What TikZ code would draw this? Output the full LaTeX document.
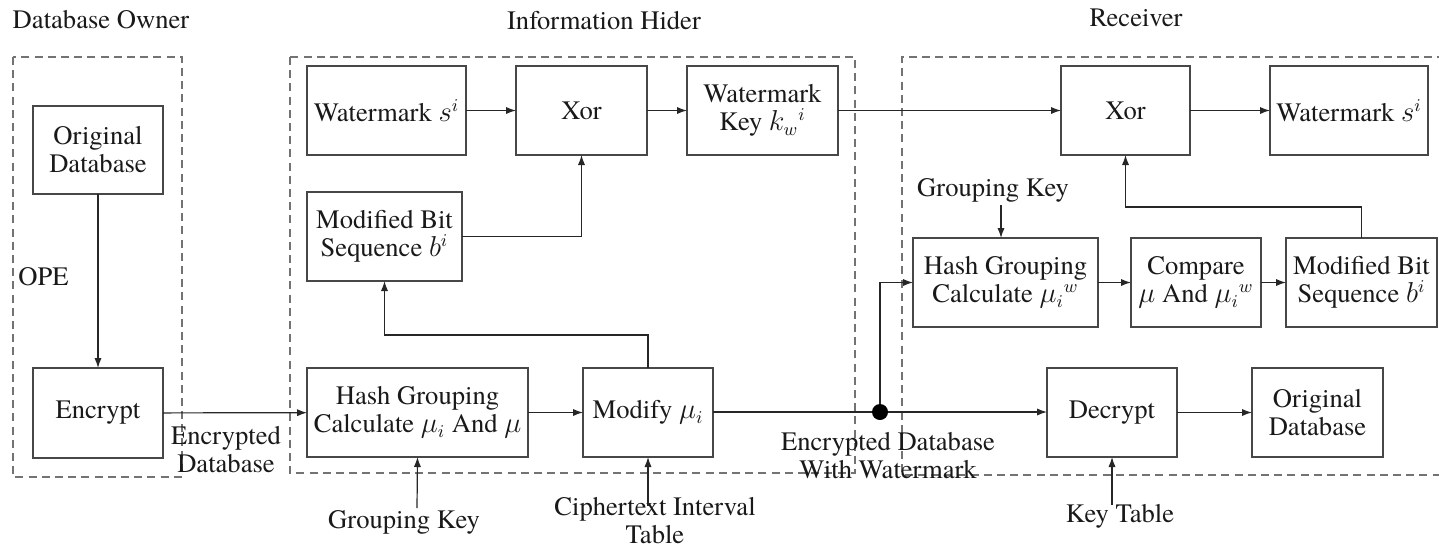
\documentclass[tikz,border=0pt]{standalone}
\usepackage{fontspec}
\setmainfont{TeX Gyre Termes}
\usetikzlibrary{arrows.meta}
\newcommand\bx[6]{\node[box, minimum width={(#4-#2)*0.5pt}, minimum height={(#5-#3)*0.5pt}] (#1) at ({(#2+#4)/2},{(#3+#5)/2}) {#6};}
\begin{document}
\begin{tikzpicture}[x=0.5pt,y=-0.5pt,
  font=\fontsize{13.3}{14}\selectfont,
  box/.style={draw=black!72, line width=0.6pt, inner sep=0pt, outer sep=0pt, align=center, text=black!90},
  lbl/.style={inner sep=0pt, align=center, text=black!90},
  dashbox/.style={draw=black!55, line width=0.8pt, dash pattern=on 4pt off 2.6pt},
  arr/.style={draw=black!85, line width=0.6pt, -{Latex[length=5pt,width=3.6pt]}},
  ln/.style={draw=black!85, line width=0.6pt},
  dot/.style={circle, fill=black, inner sep=0pt, minimum size=8pt}]
\useasboundingbox (0,0) rectangle (1439,548);
% group frames
\draw[dashbox] (13,57) rectangle (182,477);
\draw[dashbox] (290,57) rectangle (855,473);
\draw[dashbox] (1445,57) -- (902,57) -- (902,475) -- (1445,475);
% titles
\node[lbl] (t1) at (101,20) {Database Owner};
\node[lbl] (t2) at (604,21) {Information Hider};
\node[lbl] (t3) at (1136,18) {Receiver};
% Database owner
\bx{odb}{33}{106}{163}{194}{Original\\Database}
\bx{enc}{33}{368}{163}{458}{Encrypt}
\node[lbl, anchor=west] (ope) at (18,277) {OPE};
% Information hider
\bx{wm1}{307}{66}{466}{155}{Watermark $s^i$}
\bx{xor1}{516}{66}{647}{155}{Xor}
\bx{wk}{687}{66}{838}{155}{Watermark\\Key $k_w{}^i$}
\bx{mbs1}{307}{192}{462}{281}{Modified Bit\\Sequence $b^i$}
\bx{hash1}{307}{368}{528}{457}{Hash Grouping\\Calculate $\mu_i$ And $\mu$}
\bx{mod}{583}{368}{713}{457}{Modify $\mu_i$}
% Receiver
\bx{rxor}{1061}{66}{1190}{155}{Xor}
\bx{rwm}{1270}{66}{1428}{155}{Watermark $s^i$}
\bx{rhash}{913}{238}{1098}{327}{Hash Grouping\\Calculate $\mu_i{}^w$}
\bx{cmp}{1131}{238}{1261}{327}{Compare\\$\mu$ And $\mu_i{}^w$}
\bx{rmbs}{1286}{238}{1437}{327}{Modified Bit\\Sequence $b^i$}
\bx{dec}{1047}{368}{1177}{457}{Decrypt}
\bx{rodb}{1252}{368}{1383}{457}{Original\\Database}
% labels
\node[lbl] (encdb) at (226,450) {Encrypted\\Database};
\node[lbl] (gk1) at (404,522) {Grouping Key};
\node[lbl] (cit) at (655,521) {Ciphertext Interval\\Table};
\node[lbl] (edw) at (888,456) {Encrypted Database\\With Watermark};
\node[lbl] (gk2) at (993,190) {Grouping Key};
\node[lbl] (kt) at (1120,516) {Key Table};
\node[dot] (jn) at (880,412) {};
\coordinate (gk1s) at (417,508);
\coordinate (cits) at (648,506);
\coordinate (gk2s) at (1001,205);
\coordinate (kts) at (1112,505);
% connectors
\draw[arr] (odb) -- (enc);
\draw[arr] (enc) -- (hash1);
\draw[arr] (wm1) -- (xor1);
\draw[arr] (xor1) -- (wk);
\draw[arr] (mbs1.east) -| (xor1.south);
\draw[arr] (mod.north) -- ++(0,-33) -| (mbs1.south);
\draw[arr] (hash1) -- (mod);
\draw[arr] (gk1s) -- (hash1.south);
\draw[arr] (cits) -- (mod.south);
\draw[arr] (wk) -- (rxor);
\draw[arr] (rxor) -- (rwm);
\draw[arr] (gk2s) -- (gk2s |- rhash.north);
\draw[arr] (rhash) -- (cmp);
\draw[arr] (cmp) -- (rmbs);
\draw[arr] (rmbs.north) -- ++(0,-31) -| (rxor.south);
\draw[ln] (mod.east |- jn) -- (jn);
\draw[arr] (jn) -- (dec.west |- jn);
\draw[arr] (jn) |- (rhash.west);
\draw[arr] (dec) -- (rodb);
\draw[arr] (kts) -- (dec.south);
\end{tikzpicture}
\end{document}
